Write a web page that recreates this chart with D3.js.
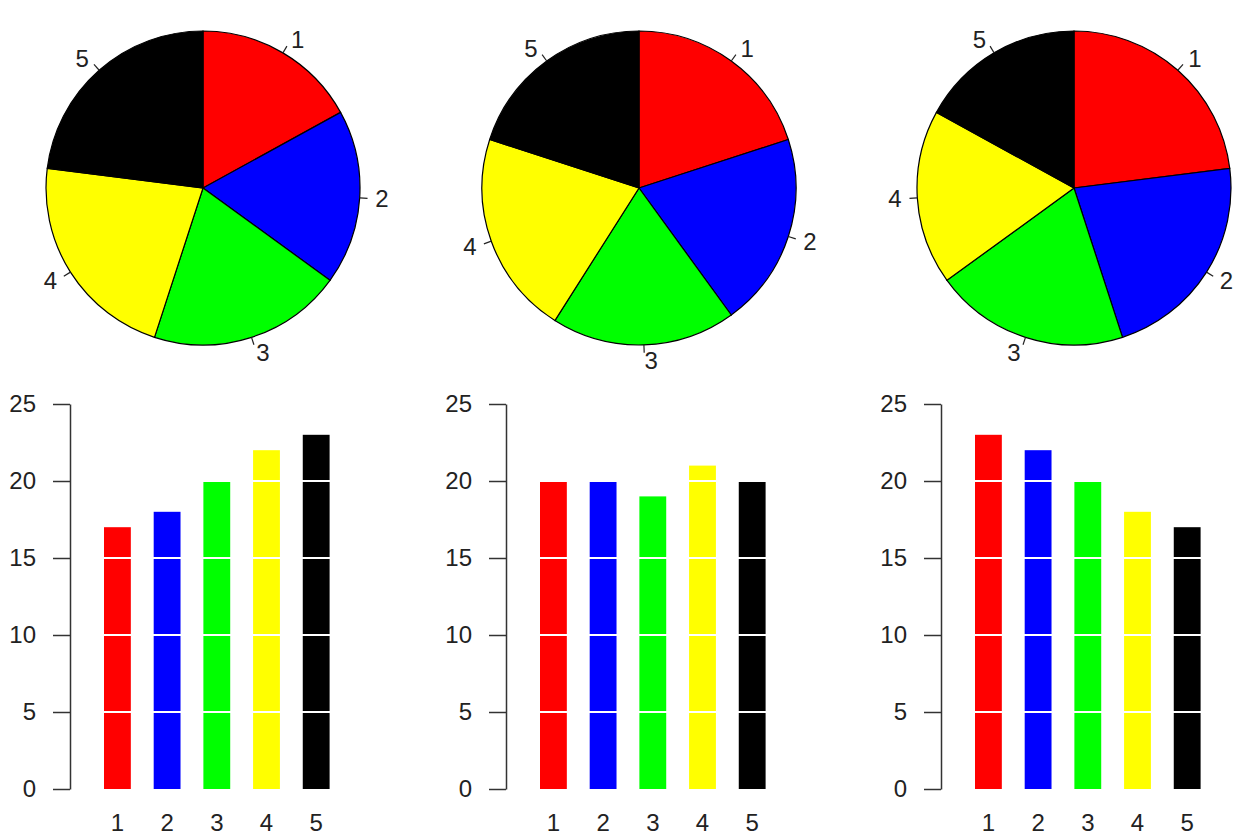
<!DOCTYPE html>
<html>
<head>
<meta charset="utf-8">
<script src="https://cdn.jsdelivr.net/npm/d3@7"></script>
<style>
  body { margin: 0; background: #fff; }
  text { font-family: "Liberation Sans", Arial, Helvetica, sans-serif; fill: #222; }
</style>
</head>
<body>
<div class="canvas"></div>
<script>
var categories = ["1", "2", "3", "4", "5"];
var colors = ["#ff0000", "#0000ff", "#00ff00", "#ffff00", "#000000"];
var seriesA = [17, 18, 20, 22, 23];
var seriesB = [20, 20, 19, 21, 20];
var seriesC = [23, 22, 20, 18, 17];
var yTicks = [0, 5, 10, 15, 20, 25];
var gridLines = [5, 10, 15, 20];

var width = 1249, height = 840;
var panelX = [0, 436, 871];
var datasets = [seriesA, seriesB, seriesC];
var fontSize = 24;

var svg = d3.select(".canvas").append("svg")
  .attr("width", width)
  .attr("height", height);

var radius = 157;
var pie = d3.pie().sort(null).value(function(d){ return d; });
var arc = d3.arc().innerRadius(0).outerRadius(radius);

var y = d3.scaleLinear().domain([0, 25]).range([789, 404]);

datasets.forEach(function(values, i) {
  var px = panelX[i];

  // pie on top
  var pg = svg.append("g").attr("transform", "translate(" + (px + 203) + ",188)");
  var slices = pie(values);
  pg.selectAll("path")
    .data(slices)
    .enter()
    .append("path")
    .attr("d", arc)
    .attr("fill", function(d, j){ return colors[j]; })
    .attr("stroke", "#000")
    .attr("stroke-width", 1.2);

  slices.forEach(function(d, j) {
    var a = (d.startAngle + d.endAngle) / 2;
    var sx = Math.sin(a), sy = -Math.cos(a);
    pg.append("line")
      .attr("x1", radius * sx).attr("y1", radius * sy)
      .attr("x2", radius * 1.05 * sx).attr("y2", radius * 1.05 * sy)
      .attr("stroke", "#222").attr("stroke-width", 1.2);
    pg.append("text")
      .attr("x", radius * 1.1 * sx)
      .attr("y", radius * 1.1 * sy)
      .attr("dy", "0.36em")
      .attr("text-anchor", sx < 0 ? "end" : "start")
      .attr("font-size", fontSize)
      .text(categories[j]);
  });

  // bar chart below
  var axisX = px + 70;
  var x = d3.scaleBand()
    .domain(categories)
    .range([axisX + 34, axisX + 259.6])
    .paddingInner(0.46)
    .paddingOuter(0);

  var bg = svg.append("g");
  bg.selectAll("rect")
    .data(values)
    .enter()
    .append("rect")
    .attr("x", function(d, j){ return x(categories[j]); })
    .attr("y", function(d){ return y(d); })
    .attr("width", x.bandwidth())
    .attr("height", function(d){ return y(0) - y(d); })
    .attr("fill", function(d, j){ return colors[j]; });

  bg.selectAll(".grid")
    .data(gridLines)
    .enter()
    .append("line")
    .attr("class", "grid")
    .attr("x1", axisX + 1).attr("x2", axisX + 300)
    .attr("y1", function(d){ return y(d); })
    .attr("y2", function(d){ return y(d); })
    .attr("stroke", "#fff")
    .attr("stroke-width", 2);

  var yAxis = svg.append("g")
    .attr("transform", "translate(" + axisX + ",0)")
    .call(d3.axisLeft(y).tickValues(yTicks).tickSize(17).tickSizeOuter(0).tickPadding(17));
  yAxis.select(".domain").attr("stroke", "#333").attr("stroke-width", 1.5);
  yAxis.selectAll(".tick line").attr("stroke", "#333").attr("stroke-width", 1.5);
  yAxis.selectAll(".tick text")
    .attr("font-size", fontSize)
    .attr("font-family", "Liberation Sans, Arial, sans-serif")
    .attr("fill", "#222");

  var xAxis = svg.append("g")
    .attr("transform", "translate(0,789)")
    .call(d3.axisBottom(x).tickSize(0).tickPadding(25));
  xAxis.select(".domain").remove();
  xAxis.selectAll(".tick text")
    .attr("font-size", fontSize)
    .attr("font-family", "Liberation Sans, Arial, sans-serif")
    .attr("fill", "#222");
});
</script>
</body>
</html>
